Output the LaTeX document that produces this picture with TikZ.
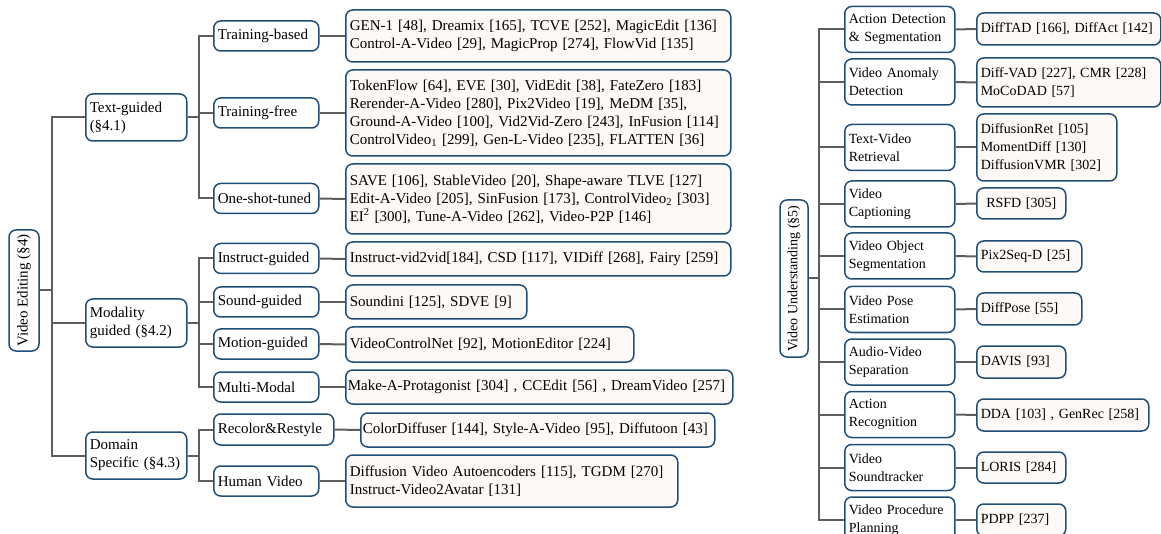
\documentclass[tikz,border=0pt]{standalone}
\usepackage{fontspec}
\setmainfont{Liberation Serif}
\definecolor{bcol}{HTML}{1F4E79}
\definecolor{lcol}{HTML}{5E5E5E}
\definecolor{leafcol}{HTML}{FDF9F7}
\tikzset{
  base/.style={draw=bcol, line width=1.5pt, rounded corners=7pt, inner xsep=4pt, inner ysep=1pt,
    font=\fontsize{15}{18}\selectfont, align=left, anchor=west},
  cat/.style={base, fill=white},
  leaf/.style={base, fill=leafcol},
  small/.style={font=\fontsize{14}{18}\selectfont},
  rootbox/.style={draw=bcol, line width=1.5pt, rounded corners=7pt, fill=white, inner sep=2pt,
    font=\fontsize{15}{18}\selectfont, rotate=90, align=center},
  conn/.style={draw=lcol, line width=2pt}
}
\begin{document}
\begin{tikzpicture}[x=1pt,y=-1pt]
\useasboundingbox (0,0) rectangle (1161,534);
\begin{scope}
\clip (0,0) rectangle (1161,534);
% ---------- left tree ----------
\node[rootbox, minimum width=121, minimum height=30] (ve) at (24,290.5) {Video Editing (§4)};

\node[cat, text width=93, minimum height=47] (tg) at (85,117.5) {Text-guided\\(§4.1)};
\node[cat, text width=93, minimum height=48] (mg) at (85,323) {Modality\\guided (§4.2)};
\node[cat, text width=93, minimum height=47] (ds) at (85,455.5) {Domain\\Specific (§4.3)};

\node[cat, text width=97, minimum height=30] (tb) at (213,36) {Training-based};
\node[cat, text width=97, minimum height=30] (tf) at (213,113) {Training-free};
\node[cat, text width=97, minimum height=30] (os) at (213,198.5) {One-shot-tuned};
\node[cat, text width=97, minimum height=30] (ig) at (213,258.5) {Instruct-guided};
\node[cat, text width=97, minimum height=30] (sg) at (213,302) {Sound-guided};
\node[cat, text width=97, minimum height=30] (mo) at (213,344) {Motion-guided};
\node[cat, text width=97, minimum height=30] (mm) at (213,387) {Multi-Modal};
\node[cat, text width=112, minimum height=31] (rr) at (213,429.5) {Recolor\&Restyle};
\node[cat, text width=97, minimum height=30] (hv) at (213,481) {Human Video};

\node[leaf, text width=377, minimum height=52] (l1) at (345,36) {GEN-1 [48], Dreamix [165], TCVE [252], MagicEdit [136]\\Control-A-Video [29], MagicProp [274], FlowVid [135]};
\node[leaf, text width=377, minimum height=86] (l2) at (345,113) {TokenFlow [64], EVE [30], VidEdit [38], FateZero [183]\\Rerender-A-Video [280], Pix2Video [19], MeDM [35],\\Ground-A-Video [100], Vid2Vid-Zero [243], InFusion [114]\\ControlVideo\textsubscript{1} [299], Gen-L-Video [235], FLATTEN [36]};
\node[leaf, text width=377, minimum height=70] (l3) at (345,199) {SAVE [106], StableVideo [20], Shape-aware TLVE [127]\\Edit-A-Video [205], SinFusion [173], ControlVideo\textsubscript{2} [303]\\EI\textsuperscript{2} [300], Tune-A-Video [262], Video-P2P [146]};
\node[leaf, text width=377, minimum height=34] (l4) at (345,259) {Instruct-vid2vid[184], CSD [117], VIDiff [268], Fairy [259]};
\node[leaf, text width=173, minimum height=34] (l5) at (345,302) {Soundini [125], SDVE [9]};
\node[leaf, text width=280, minimum height=35] (l6) at (345,344.5) {VideoControlNet [92], MotionEditor [224]};
\node[leaf, inner xsep=2pt, text width=383, minimum height=34] (l7) at (345,387) {Make-A-Protagonist [304] , CCEdit [56] , DreamVideo [257]};
\node[leaf, inner xsep=2pt, text width=350, minimum height=34] (l8) at (360,430) {ColorDiffuser [144], Style-A-Video [95], Diffutoon [43]};
\node[leaf, text width=324, minimum height=52] (l9) at (345,481) {Diffusion Video Autoencoders [115], TGDM [270]\\Instruct-Video2Avatar [131]};

\foreach \c in {tg,mg,ds} \draw[conn] (ve.south) -- ++(12,0) |- (\c.west);
\foreach \c in {tb,tf,os} \draw[conn] (tg.east) -- ++(11,0) |- (\c.west);
\foreach \c in {ig,sg,mo,mm} \draw[conn] (mg.east) -- ++(11,0) |- (\c.west);
\foreach \c in {rr,hv} \draw[conn] (ds.east) -- ++(11,0) |- (\c.west);
\foreach \a/\b in {tb/l1,tf/l2,os/l3,ig/l4,sg/l5,mo/l6,mm/l7,rr/l8,hv/l9} \draw[conn] (\a.east) -- (\b.west);

% ---------- right tree ----------
\node[rootbox, small, minimum width=157, minimum height=28] (vu) at (794,278.5) {Video Understanding (§5)};

\node[cat, small, text width=102, minimum height=46] (r1) at (844,29.5) {Action Detection\\\& Segmentation};
\node[cat, small, text width=102, minimum height=46] (r2) at (844,82) {Video Anomaly\\Detection};
\node[cat, small, text width=102, minimum height=46] (r3) at (844,147.5) {Text-Video\\Retrieval};
\node[cat, small, text width=102, minimum height=46] (r4) at (844,204) {Video\\Captioning};
\node[cat, small, text width=102, minimum height=46] (r5) at (844,256) {Video Object\\Segmentation};
\node[cat, small, text width=102, minimum height=46] (r6) at (844,309.5) {Video Pose\\Estimation};
\node[cat, small, text width=102, minimum height=46] (r7) at (844,362) {Audio-Video\\Separation};
\node[cat, small, text width=102, minimum height=46] (r8) at (844,414.5) {Action\\Recognition};
\node[cat, small, text width=102, minimum height=46] (r9) at (844,467.5) {Video\\Soundtracker};
\node[cat, small, text width=102, minimum height=46] (r10) at (844,520) {Video Procedure\\Planning};

\node[leaf, small, text width=176, minimum height=32] (s1) at (976,29) {DiffTAD [166], DiffAct [142]};
\node[leaf, small, text width=176, minimum height=49] (s2) at (976,82.5) {Diff-VAD [227], CMR [228]\\MoCoDAD [57]};
\node[leaf, small, text width=132, minimum height=67] (s3) at (976,147.5) {DiffusionRet [105]\\MomentDiff [130]\\DiffusionVMR [302]};
\node[leaf, small, text width=81, minimum height=31, align=center] (s4) at (976,203.5) {RSFD [305]};
\node[leaf, small, text width=97, minimum height=31] (s5) at (976,256.5) {Pix2Seq-D [25]};
\node[leaf, small, text width=97, minimum height=32] (s6) at (976,309) {DiffPose [55]};
\node[leaf, small, text width=81, minimum height=32] (s7) at (976,362) {DAVIS [93]};
\node[leaf, small, text width=164, minimum height=32] (s8) at (976,415) {DDA [103] , GenRec [258]};
\node[leaf, small, text width=81, minimum height=31] (s9) at (976,467.5) {LORIS [284]};
\node[leaf, small, text width=81, minimum height=32] (s10) at (976,520) {PDPP [237]};

\foreach \c in {r1,r2,r3,r4,r5,r6,r7,r8,r9,r10} \draw[conn] (vu.south) -- ++(10,0) |- (\c.west);
\foreach \i in {1,...,10} \draw[conn] (r\i.east) -- (s\i.west);
\end{scope}
\end{tikzpicture}
\end{document}
